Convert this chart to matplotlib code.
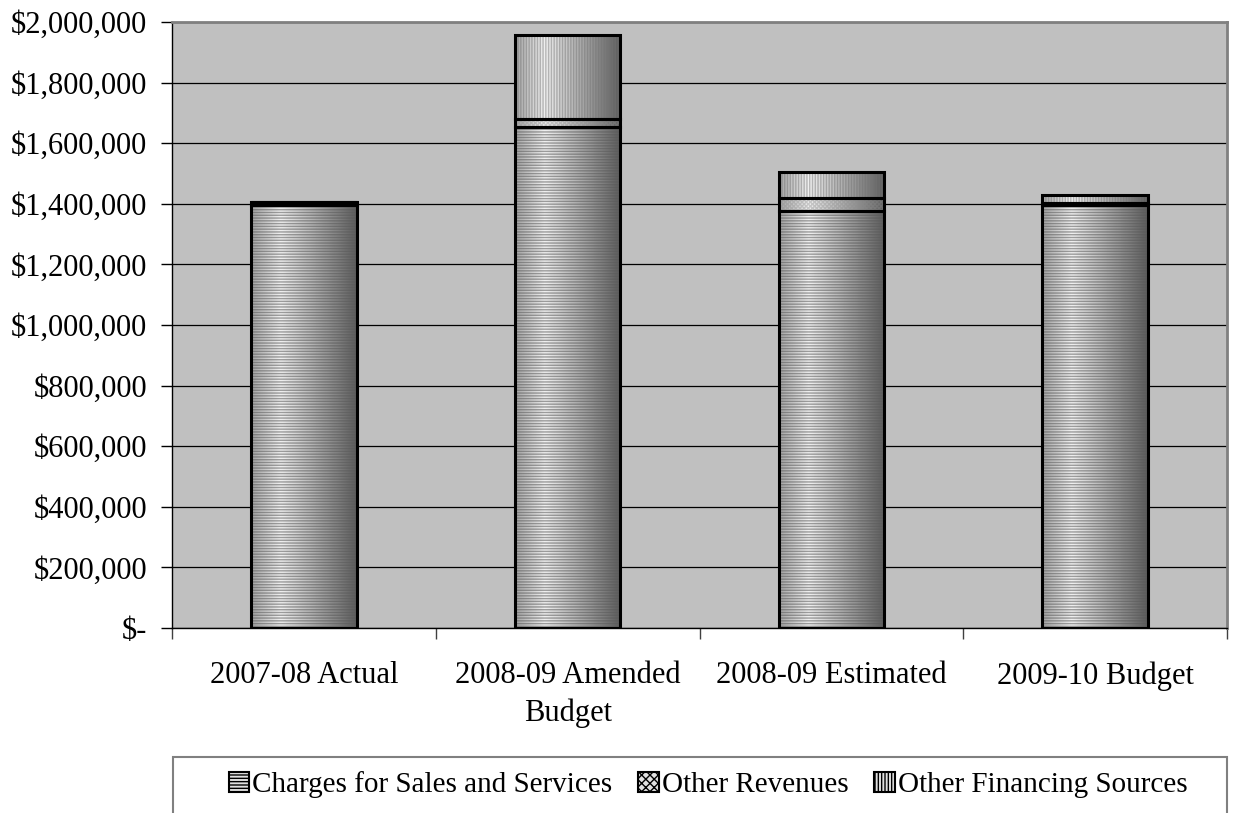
import numpy as np
import matplotlib
matplotlib.use("Agg")
import matplotlib.pyplot as plt
from matplotlib.patches import Patch, Rectangle
from matplotlib.ticker import FuncFormatter, MultipleLocator

plt.rcParams['font.family'] = ['Liberation Serif', 'DejaVu Serif']
plt.rcParams['hatch.linewidth'] = 1.0

# data
categories = ["2007-08 Actual", "2008-09 Amended\nBudget", "2008-09 Estimated", "2009-10 Budget"]
charges = [1397000, 1655000, 1377000, 1396000]
other_revenues = [10000, 25000, 43000, 6000]
other_financing = [0, 277000, 86000, 27000]
series_names = ["Charges for Sales and Services", "Other Revenues", "Other Financing Sources"]
hatches = ['------', 'xxxxxxxx', '||||||']
hatch_colors = [(0.35, 0.35, 0.35, 0.55), (0.55, 0.55, 0.55, 0.4), (0.45, 0.45, 0.45, 0.45)]

fig = plt.figure(figsize=(12.33, 8.13), dpi=100)
ax = fig.add_axes([172 / 1233, 185 / 813, 1055 / 1233, 606 / 813])
ax.set_facecolor('#c0c0c0')

x = np.arange(len(categories))
width = 0.4

# horizontal shading used inside each bar (light near left, dark at right)
u = np.linspace(0, 1, 200)
grad = np.interp(u, [0, 0.28, 1], [0.64, 0.94, 0.36])[None, :]

bottom = np.zeros(len(categories))
for vals, h, hc in zip([charges, other_revenues, other_financing], hatches, hatch_colors):
    vals = np.array(vals, dtype=float)
    # gradient fill clipped to each bar
    outline = ax.bar(x, vals, width, bottom=bottom, color='none', edgecolor='black',
                     linewidth=2.2, zorder=5)
    for rect in outline:
        if rect.get_height() <= 0:
            continue
        x0, y0 = rect.get_x(), rect.get_y()
        im = ax.imshow(grad, extent=[x0, x0 + rect.get_width(), y0, y0 + rect.get_height()],
                       aspect='auto', cmap='gray', vmin=0, vmax=1, zorder=3,
                       interpolation='bilinear')
        im.set_clip_path(rect)
    ax.bar(x, vals, width, bottom=bottom, color='none', edgecolor=hc, linewidth=0,
           hatch=h, zorder=4)
    bottom = bottom + vals

ax.set_xlim(-0.5, len(categories) - 0.5)
ax.set_ylim(0, 2000000)
ax.set_aspect('auto')

ax.yaxis.set_major_locator(MultipleLocator(200000))
ax.yaxis.set_major_formatter(FuncFormatter(lambda v, p: "$-" if v == 0 else "${:,.0f}".format(v)))
ax.grid(axis='y', color='black', linewidth=0.9, zorder=1)
ax.set_axisbelow(True)

ax.set_xticks(x)
ax.set_xticklabels(categories, linespacing=1.35)
ax.set_xticks(np.arange(-0.5, len(categories)), minor=True)
ax.tick_params(axis='x', which='major', length=0, pad=24, labelsize=22)
ax.tick_params(axis='x', which='minor', length=8, width=1, direction='out', color='#404040')
ax.tick_params(axis='y', length=8, width=1, pad=10, labelsize=22)

for s in ['top', 'right']:
    ax.spines[s].set_color('#808080')
    ax.spines[s].set_linewidth(2)
ax.spines['left'].set_color('black')
ax.spines['bottom'].set_color('black')
ax.spines['left'].set_linewidth(1)
ax.spines['bottom'].set_linewidth(1)

# legend box runs off the bottom edge, like the original
fig.patches.append(Rectangle((173 / 1233, -0.02), 1054 / 1233, 56 / 813 + 0.02,
                             transform=fig.transFigure, facecolor='white',
                             edgecolor='#808080', linewidth=1.5))

handles = [Patch(facecolor='#e0e0e0', edgecolor='black', hatch=h, linewidth=1.5)
           for h in ['-----', 'xxxx', '|||||']]
leg = fig.legend(handles, series_names, loc='center', ncol=3,
                 bbox_to_anchor=(708 / 1233, 28 / 813),
                 frameon=False, fontsize=21, handlelength=0.7,
                 handleheight=0.7, handletextpad=0.1, borderaxespad=0,
                 borderpad=0, columnspacing=0.9)

fig.savefig("out.png", dpi=100)
